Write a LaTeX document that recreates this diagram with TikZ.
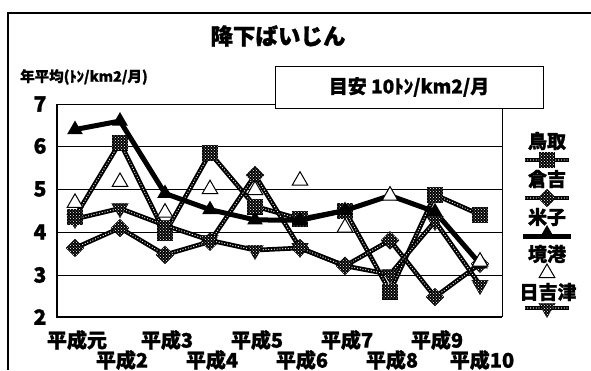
\documentclass[tikz,border=0pt]{standalone}
\usepackage{fontspec}
\setmainfont{Noto Sans CJK JP}[BoldFeatures={FakeBold=1.2}]
\usetikzlibrary{shapes.geometric,patterns}
\newcommand\myfs[1]{\fontsize{#1}{#1}\selectfont}
\begin{document}
\begin{tikzpicture}[x=1pt,y=-1pt,font=\bfseries,
  chain/.style={line width=4.6pt, draw=black, postaction={draw=white, line width=1.3pt, dash pattern=on 0pt off 2.8pt, line cap=round}},
  dotfill/.style={fill=black, postaction={pattern=crosshatch dots, pattern color=white}},
  sqm/.style={rectangle, minimum size=15pt, inner sep=0pt, draw=black, dotfill},
  dim/.style={diamond, minimum size=18pt, inner sep=0pt, draw=black, dotfill},
  ftri/.style={regular polygon, regular polygon sides=3, minimum size=18pt, inner sep=0pt, fill=black},
  htri/.style={regular polygon, regular polygon sides=3, minimum size=18pt, inner sep=0pt, fill=white, draw=black, line width=1pt},
  itri/.style={regular polygon, regular polygon sides=3, shape border rotate=180, minimum size=19pt, inner sep=0pt, draw=black, dotfill},
  solidline/.style={line width=5pt, draw=black},
  grid/.style={line width=0.9pt},
  lbl/.style={inner sep=0pt}]
\useasboundingbox (0,0) rectangle (591,370);
% outer frame
\draw[line width=1.3pt] (8,370) -- (8,13) -- (591,13);
% title
\node[lbl] (title) at (278,36) {\myfs{22.5}降下ばいじん};
\node[lbl,anchor=west] (ylab) at (20,77) {\myfs{14.5}年平均(ﾄﾝ/km2/月)};
% plot frame and grid
\coordinate (pTL) at (57,104); \coordinate (pTR) at (502,104);
\coordinate (pBL) at (57,317); \coordinate (pBR) at (502,317);
\foreach \yy in {146,189,232,275} \draw[grid] (57,\yy) -- (502,\yy);
\draw[grid] (pTL) -- (pTR) -- (pBR);
\draw[line width=2pt] (pTL) -- (pBL) -- (pBR);
% y tick labels
\foreach \v/\yy in {7/104,6/146,5/189,4/232,3/275,2/317}
  \node[lbl] (yt\v) at (40,\yy) {\myfs{21}\v};
% x labels
\foreach \t [count=\i] in {平成元,平成2,平成3,平成4,平成5,平成6,平成7,平成8,平成9,平成10}{
  \pgfmathtruncatemacro\odd{mod(\i,2)}
  \ifnum\odd=1 \def\yy{340}\else\def\yy{360}\fi
  \node[lbl] (xl\i) at ({77+45*(\i-1)},\yy) {\myfs{20}\t};
}
% data
\begin{scope}[shift={(30,402.2)}, x=45pt, y=42.6pt]
  \foreach \v [count=\i] in {4.35,6.1,3.97,5.85,4.6,4.3,4.5,2.6,4.87,4.4} \coordinate (T\i) at (\i,\v);
  \foreach \v [count=\i] in {3.62,4.09,3.46,3.77,5.33,3.62,3.2,3.8,2.47,3.25} \coordinate (K\i) at (\i,\v);
  \foreach \v [count=\i] in {6.4,6.6,4.9,4.52,4.28,4.27,4.5,4.85,4.47,3.25} \coordinate (Y\i) at (\i,\v);
  \foreach \i/\v in {1/4.68,2/5.17,3/4.45,4/5.0,5/4.98,6/5.2,7/4.1,8/4.85,10/3.3} \coordinate (S\i) at (\i,\v);
  \foreach \v [count=\i] in {4.3,4.55,4.15,3.8,3.57,3.62,3.2,3.0,4.25,2.75} \coordinate (H\i) at (\i,\v);
\end{scope}
% 鳥取
\draw[chain] (T1) \foreach \i in {2,...,10}{ -- (T\i)};
\foreach \i in {1,...,10} \node[sqm] (Tm\i) at (T\i) {};
% 倉吉
\draw[chain] (K1) \foreach \i in {2,...,10}{ -- (K\i)};
\foreach \i in {1,...,10} \node[dim] (Km\i) at (K\i) {};
% 米子
\draw[solidline] (Y1) \foreach \i in {2,...,10}{ -- (Y\i)};
\foreach \i in {1,...,10} \node[ftri] (Ym\i) at (Y\i) {};
% 境港
\foreach \i in {1,2,3,4,5,6,7,8,10} \node[htri] (Sm\i) at (S\i) {};
% 日吉津
\draw[chain] (H1) \foreach \i in {2,...,10}{ -- (H\i)};
\foreach \i in {1,...,10} \node[itri] (Hm\i) at (H\i) {};
% goal box
\node[draw, line width=1pt, fill=white, minimum width=268pt, minimum height=42pt, inner sep=0pt] (goal) at (409,87) {\myfs{19}目安 10ﾄﾝ/km2/月};
% legend
\node[lbl] (lgT) at (547,141) {\myfs{19}鳥取};
\coordinate (lTa) at (525,160); \coordinate (lTb) at (569,160);
\draw[chain] (lTa) -- (lTb); \node[sqm] (lTm) at (547,160) {};
\node[lbl] (lgK) at (547,179) {\myfs{19}倉吉};
\coordinate (lKa) at (525,198); \coordinate (lKb) at (569,198);
\draw[chain] (lKa) -- (lKb); \node[dim] (lKm) at (547,198) {};
\node[lbl] (lgY) at (547,217) {\myfs{19}米子};
\coordinate (lYa) at (523,236); \coordinate (lYb) at (571,236);
\draw[solidline] (lYa) -- (lYb); \node[ftri] (lYm) at (547,234) {};
\node[lbl] (lgS) at (547,254) {\myfs{19}境港};
\node[htri] (lSm) at (547,273) {};
\node[lbl] (lgH) at (548,292) {\myfs{19}日吉津};
\coordinate (lHa) at (525,308); \coordinate (lHb) at (569,308);
\draw[chain] (lHa) -- (lHb); \node[itri] (lHm) at (547,308) {};
\end{tikzpicture}
\end{document}
